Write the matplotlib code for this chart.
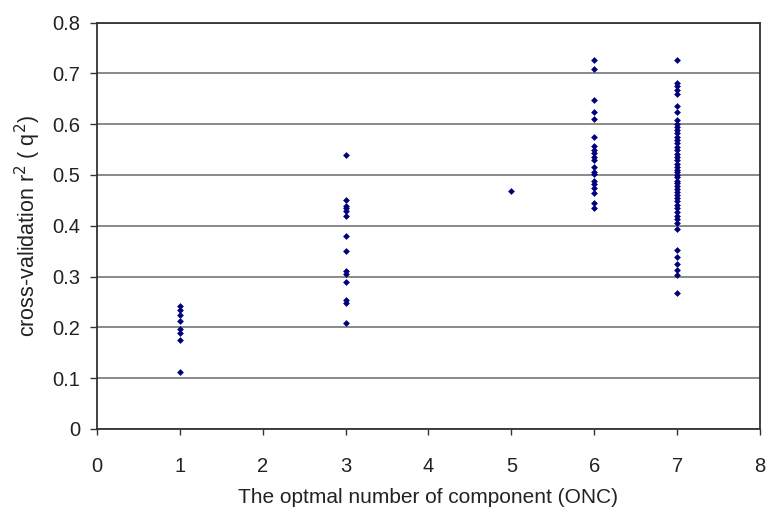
import matplotlib
matplotlib.use("Agg")
import matplotlib.pyplot as plt
import numpy as np

plt.rcParams['font.family'] = ['Liberation Sans', 'DejaVu Sans']

# Data
q2_onc1 = [0.242, 0.234, 0.225, 0.212, 0.196, 0.188, 0.175, 0.112]
q2_onc3 = [0.539, 0.451, 0.439, 0.435, 0.430, 0.420, 0.379, 0.351,
           0.310, 0.305, 0.289, 0.253, 0.247, 0.208]
q2_onc5 = [0.468]
q2_onc6 = [0.727, 0.709, 0.647, 0.624, 0.610, 0.574, 0.556, 0.549,
           0.543, 0.536, 0.529, 0.516, 0.505, 0.501, 0.489, 0.482,
           0.474, 0.465, 0.444, 0.435]
q2_onc7 = [0.727, 0.681, 0.675, 0.667, 0.659, 0.635, 0.624, 0.608,
           0.601, 0.595, 0.588, 0.582, 0.575, 0.568, 0.562, 0.555,
           0.549, 0.542, 0.536, 0.529, 0.522, 0.515, 0.510, 0.505,
           0.500, 0.495, 0.489, 0.484, 0.478, 0.472, 0.466, 0.460,
           0.454, 0.448, 0.441, 0.434, 0.427, 0.420, 0.413, 0.405,
           0.393, 0.352, 0.339, 0.325, 0.312, 0.304, 0.268]

groups = {1: q2_onc1, 3: q2_onc3, 5: q2_onc5, 6: q2_onc6, 7: q2_onc7}

x_ticks = [0, 1, 2, 3, 4, 5, 6, 7, 8]
y_ticks = [0, 0.1, 0.2, 0.3, 0.4, 0.5, 0.6, 0.7, 0.8]
y_tick_labels = ['0', '0.1', '0.2', '0.3', '0.4', '0.5', '0.6', '0.7', '0.8']

fig = plt.figure(figsize=(7.69, 5.14), dpi=100)
ax = fig.add_axes([0.1261, 0.1654, 0.8622, 0.7908])

xs, ys = [], []
for k, vals in groups.items():
    xs.extend([k] * len(vals))
    ys.extend(vals)

ax.scatter(xs, ys, marker='D', s=12, color='#00007F', linewidths=0, zorder=3)

ax.set_xlim(0, 8)
ax.set_ylim(0, 0.8)
ax.set_xticks(x_ticks)
ax.set_yticks(y_ticks)
ax.set_yticklabels(y_tick_labels)

ax.yaxis.grid(True, color='#808080', linewidth=1.3)
ax.set_axisbelow(True)

for s in ax.spines.values():
    s.set_color('#333333')
    s.set_linewidth(1.3)

ax.tick_params(axis='y', direction='out', length=5, width=1, pad=7,
               labelsize=14.5, colors='#333333', labelcolor='#222222')
ax.tick_params(axis='x', direction='out', length=4, width=1, pad=16,
               labelsize=14.5, colors='#333333', labelcolor='#222222')

ax.set_xlabel('The optmal number of component (ONC)', fontsize=15,
              color='#222222', labelpad=9)
ax.set_ylabel('cross-validation r$^2$ ( q$^2$)', fontsize=15.5,
              color='#222222', labelpad=7)

fig.savefig('out.png', dpi=100)
